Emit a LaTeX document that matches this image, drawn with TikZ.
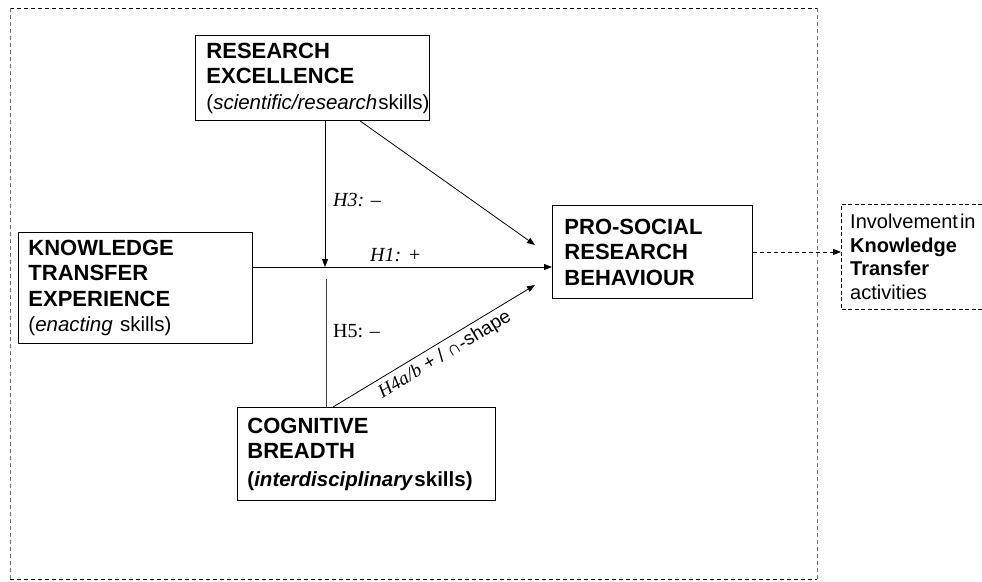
\documentclass[tikz,border=0pt]{standalone}
\usepackage{fontspec}
\setmainfont{Liberation Sans}
\newfontfamily\tms{Liberation Serif}
\usetikzlibrary{arrows.meta,calc}
\begin{document}
\begin{tikzpicture}[x=1pt,y=-1pt,
  box/.style={draw, line width=0.9pt, rectangle, anchor=north west, align=left,
    inner xsep=11pt, inner ysep=0pt, font=\fontsize{22}{25.5}\selectfont\bfseries},
  arr/.style={line width=0.8pt, -{Triangle[length=8pt,width=6pt]}},
  plain/.style={line width=0.8pt},
  lab/.style={anchor=base west, inner sep=0pt, font=\fontsize{20}{24}\selectfont\tms},
  frame/.style={dashed, line width=0.8pt, dash pattern=on 4pt off 3pt}]
\useasboundingbox (0,0) rectangle (982,581);

% outer dashed frame
\draw[frame, black] (10,8) -- (817,8);
\draw[frame, black] (10,579) -- (817,579);
\draw[frame, black!55] (10,8) -- (10,579);
\draw[frame, black!55] (817,8) -- (817,579);

% boxes
\node[box, text width=212pt, minimum height=85pt] (re) at (195,35)
  {RESEARCH\\EXCELLENCE\\{\mdseries\fontsize{20.5}{25}\selectfont(\textit{scientific/research}\kern1pt skills)}};
\node[box, text width=214pt, minimum height=111pt, inner xsep=10pt] (kte) at (18,232)
  {KNOWLEDGE\\TRANSFER\\EXPERIENCE\\{\mdseries\fontsize{20.5}{25}\selectfont(\textit{enacting}~skills)}};
\node[box, text width=176pt, minimum height=93pt, inner xsep=12pt] (prs) at (552,205)
  {PRO-SOCIAL\\RESEARCH\\BEHAVIOUR};
\node[box, text width=238pt, minimum height=93pt, inner xsep=10pt] (cb) at (237,407)
  {COGNITIVE\\BREADTH\\{\fontsize{20.5}{25}\selectfont\kern2pt(\textit{interdisciplinary}\kern1pt skills)}};

% right dashed box (cut by the page edge)
\node[anchor=north west, minimum height=105pt, text width=135pt, inner xsep=9pt, inner ysep=0pt,
  align=left, font=\fontsize{20}{23.5}\selectfont] (kt) at (841,204)
  {Involvement\kern2pt in\\\textbf{Knowledge}\\\textbf{Transfer}\\activities};
\draw[dashed, line width=0.8pt, dash pattern=on 4pt off 2.5pt]
  (kt.north west -| 982,0) -- (kt.north west) -- (kt.south west) -- (kt.south west -| 982,0);

% junction coordinates
\coordinate (mod) at (325,267);
\coordinate (h5top) at (326,279);
\coordinate (t1) at (535,245);
\coordinate (t2) at (535,285);

% connectors
\draw[arr] (kte.east |- mod) -- (prs.west |- mod);
\draw[arr] (re.south -| mod) -- (mod);
\draw[arr] ($(re.south west)+(165,0)$) -- (t1);
\draw[plain, black!75] (cb.north -| h5top) -- (h5top);
\draw[arr] ($(cb.north west)+(96,0)$) -- node[sloped, below, pos=0.52, inner sep=4pt]
  {\fontsize{19}{22}\selectfont{\tms\itshape H4a/b} + / ∩-shape} (t2);
\draw[arr, dashed, dash pattern=on 4pt off 3pt] (prs.east) -- (kt.west |- prs.east);

% labels
\node[lab] (h3) at (333,206) {\itshape H3: –};
\node[lab] (h1) at (370,261) {\itshape H1: +};
\node[lab] (h5) at (333,337) {H5: –};
\end{tikzpicture}
\end{document}
